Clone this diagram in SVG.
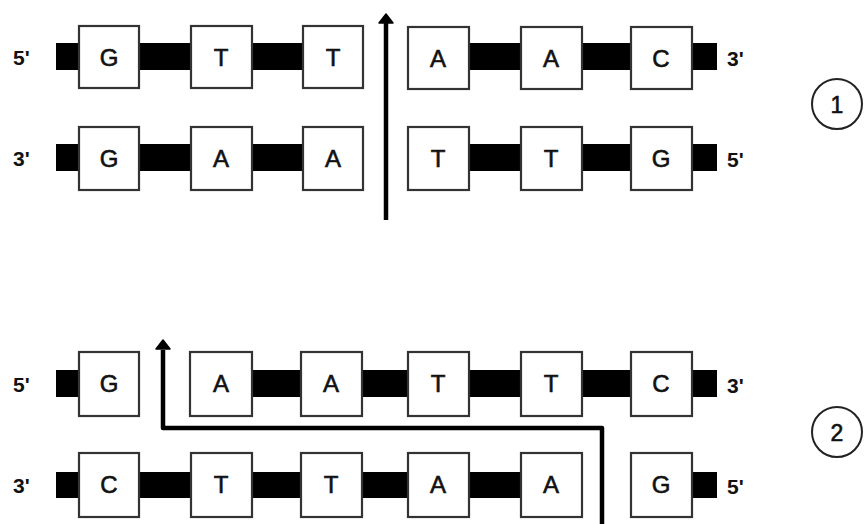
<svg xmlns="http://www.w3.org/2000/svg" width="865" height="524" viewBox="0 0 865 524">
<defs>
<style>
.bx{fill:#fff;stroke:#333;stroke-width:2.2}
.bar{fill:#000}
.t{font-family:"Liberation Sans",Arial,sans-serif;font-size:24px;fill:#111;stroke:#111;stroke-width:0.6;text-anchor:middle}
.e{font-family:"Liberation Sans",Arial,sans-serif;font-size:21px;font-weight:bold;fill:#111}
.arr{fill:none;stroke:#000;stroke-width:4.5;stroke-linejoin:round}
.head{fill:#000;stroke:#000;stroke-width:1.5;stroke-linejoin:round}
.circ{fill:#fff;stroke:#222;stroke-width:2}
</style>
</defs>
<rect width="865" height="524" fill="#fff"/>

<g id="strand1-top">
<rect class="bar" x="56" y="43" width="30" height="27"/>
<rect class="bar" x="135" y="43" width="60" height="27"/>
<rect class="bar" x="248" y="43" width="60" height="27"/>
<rect class="bar" x="465" y="43" width="60" height="27"/>
<rect class="bar" x="578" y="43" width="58" height="27"/>
<rect class="bar" x="688" y="43" width="29" height="27"/>
<rect class="bx" x="79" y="26" width="60" height="62"/><text class="t" x="109" y="66">G</text>
<rect class="bx" x="191" y="26" width="61" height="62"/><text class="t" x="221" y="66">T</text>
<rect class="bx" x="303" y="26" width="60" height="62"/><text class="t" x="333" y="66">T</text>
<rect class="bx" x="408" y="27" width="61" height="62"/><text class="t" x="438" y="67">A</text>
<rect class="bx" x="521" y="27" width="61" height="62"/><text class="t" x="551" y="67">A</text>
<rect class="bx" x="631" y="27" width="61" height="62"/><text class="t" x="661" y="67">C</text>
<text class="e" x="13" y="65">5'</text>
<text class="e" x="727" y="66">3'</text>
</g>

<g id="strand1-bottom">
<rect class="bar" x="56" y="144" width="30" height="27"/>
<rect class="bar" x="135" y="144" width="60" height="27"/>
<rect class="bar" x="248" y="144" width="60" height="27"/>
<rect class="bar" x="465" y="144" width="60" height="27"/>
<rect class="bar" x="578" y="144" width="58" height="27"/>
<rect class="bar" x="688" y="144" width="29" height="27"/>
<rect class="bx" x="79" y="127" width="60" height="63"/><text class="t" x="109" y="167">G</text>
<rect class="bx" x="191" y="127" width="61" height="63"/><text class="t" x="221" y="167">A</text>
<rect class="bx" x="303" y="127" width="60" height="63"/><text class="t" x="333" y="167">A</text>
<rect class="bx" x="408" y="127" width="61" height="63"/><text class="t" x="438" y="167">T</text>
<rect class="bx" x="521" y="127" width="61" height="63"/><text class="t" x="551" y="167">T</text>
<rect class="bx" x="631" y="127" width="61" height="63"/><text class="t" x="661" y="167">G</text>
<text class="e" x="13" y="166">3'</text>
<text class="e" x="727" y="167">5'</text>
</g>

<g id="strand2-top">
<rect class="bar" x="56" y="370" width="30" height="27"/>
<rect class="bar" x="248" y="370" width="60" height="27"/>
<rect class="bar" x="358" y="370" width="55" height="27"/>
<rect class="bar" x="465" y="370" width="60" height="27"/>
<rect class="bar" x="578" y="370" width="58" height="27"/>
<rect class="bar" x="688" y="370" width="29" height="27"/>
<rect class="bx" x="79" y="352" width="60" height="64"/><text class="t" x="109" y="392">G</text>
<rect class="bx" x="190" y="352" width="62" height="64"/><text class="t" x="221" y="392">A</text>
<rect class="bx" x="301" y="352" width="61" height="64"/><text class="t" x="331" y="392">A</text>
<rect class="bx" x="408" y="352" width="61" height="64"/><text class="t" x="438" y="392">T</text>
<rect class="bx" x="521" y="352" width="61" height="64"/><text class="t" x="551" y="392">T</text>
<rect class="bx" x="631" y="352" width="61" height="64"/><text class="t" x="661" y="392">C</text>
<text class="e" x="13" y="392">5'</text>
<text class="e" x="727" y="393">3'</text>
</g>

<g id="strand2-bottom">
<rect class="bar" x="56" y="472" width="30" height="26"/>
<rect class="bar" x="135" y="472" width="60" height="26"/>
<rect class="bar" x="248" y="472" width="58" height="26"/>
<rect class="bar" x="358" y="472" width="55" height="26"/>
<rect class="bar" x="465" y="472" width="60" height="26"/>
<rect class="bar" x="688" y="472" width="29" height="26"/>
<rect class="bx" x="79" y="453" width="60" height="64"/><text class="t" x="109" y="493">C</text>
<rect class="bx" x="191" y="453" width="61" height="64"/><text class="t" x="221" y="493">T</text>
<rect class="bx" x="301" y="453" width="61" height="64"/><text class="t" x="331" y="493">T</text>
<rect class="bx" x="408" y="453" width="61" height="64"/><text class="t" x="438" y="493">A</text>
<rect class="bx" x="521" y="453" width="61" height="64"/><text class="t" x="551" y="493">A</text>
<rect class="bx" x="631" y="453" width="61" height="64"/><text class="t" x="661" y="493">G</text>
<text class="e" x="13" y="493">3'</text>
<text class="e" x="727" y="494">5'</text>
</g>

<g id="label1">
<circle class="circ" cx="837" cy="104" r="25"/>
<text class="t" x="837" y="113" style="font-size:23px">1</text>
</g>
<g id="label2">
<circle class="circ" cx="837" cy="432" r="25"/>
<text class="t" x="837" y="441" style="font-size:23px">2</text>
</g>

<g id="connectors">
<path class="arr" d="M386,220 V22"/>
<path class="head" d="M386,14 L393,23 L379,23 Z"/>
<path class="arr" d="M602,524 V428 H163 V350"/>
<path class="head" d="M163,340 L170,349 L156,349 Z"/>
</g>
</svg>
